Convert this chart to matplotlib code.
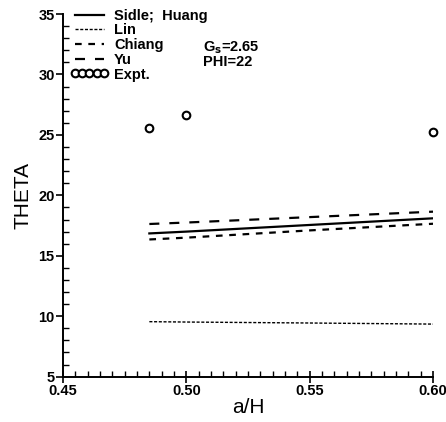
import matplotlib
matplotlib.use("Agg")
import matplotlib.pyplot as plt
from matplotlib.ticker import MultipleLocator, FormatStrFormatter

# a/H values and computed THETA for each method
ah = [0.485, 0.50, 0.55, 0.60]
sidle_huang = [16.85, 17.00, 17.55, 18.10]
lin = [9.55, 9.52, 9.44, 9.35]
chiang = [16.35, 16.50, 17.10, 17.65]
yu = [17.63, 17.75, 18.20, 18.65]

# measured values
expt_ah = [0.485, 0.50, 0.60]
expt_theta = [25.6, 26.65, 25.2]

plt.rcParams["font.family"] = ["Liberation Sans", "DejaVu Sans"]

fig = plt.figure(figsize=(4.46, 4.22), dpi=100)
ax = fig.add_axes([0.1413, 0.1074, 0.8296, 0.8594])

ax.plot(ah, sidle_huang, color="black", lw=1.6, label="Sidle;  Huang")
ax.plot(ah, lin, color="black", lw=1.0, dashes=(2.2, 1.2), label="Lin")
ax.plot(ah, chiang, color="black", lw=1.6, dashes=(3.0, 3.0), label="Chiang")
ax.plot(ah, yu, color="black", lw=1.6, dashes=(4.5, 4.5), label="Yu")
ax.plot(expt_ah, expt_theta, linestyle="none", marker="o", ms=5.5,
        mfc="white", mec="black", mew=1.5, label="Expt.", clip_on=False)

ax.set_xlim(0.45, 0.60)
ax.set_ylim(5, 35)

ax.spines["top"].set_visible(False)
ax.spines["right"].set_visible(False)
for s in ("left", "bottom"):
    ax.spines[s].set_linewidth(1.4)

ax.xaxis.set_major_locator(MultipleLocator(0.05))
ax.xaxis.set_minor_locator(MultipleLocator(0.005))
ax.xaxis.set_major_formatter(FormatStrFormatter("%.2f"))
ax.yaxis.set_major_locator(MultipleLocator(5))
ax.yaxis.set_minor_locator(MultipleLocator(1))

ax.tick_params(axis="x", which="major", direction="inout", length=8, width=1.2,
               pad=1, labelsize=10.5)
ax.tick_params(axis="x", which="minor", direction="in", length=4, width=1.0)
ax.tick_params(axis="y", which="major", direction="out", length=5, width=1.2,
               pad=1, labelsize=10.5)
ax.tick_params(axis="y", which="minor", direction="in", length=4, width=1.0)
for lab in ax.get_xticklabels() + ax.get_yticklabels():
    lab.set_fontweight("bold")

ax.set_xlabel("a/H", fontsize=15, labelpad=0)
ax.set_ylabel("THETA", fontsize=15, labelpad=4)

leg = ax.legend(loc="upper left", bbox_to_anchor=(0.0, 1.035), frameon=False,
                numpoints=5, handlelength=2.6, handletextpad=0.4,
                labelspacing=0.05, borderaxespad=0.1,
                prop={"size": 10.5, "weight": "bold"})

ax.text(0.378, 0.908, "G$_\\mathbf{s}$=2.65", transform=ax.transAxes,
        fontsize=10.5, fontweight="bold", va="center", ha="left")
ax.text(0.378, 0.868, "PHI=22", transform=ax.transAxes,
        fontsize=10.5, fontweight="bold", va="center", ha="left")

fig.savefig("out.png", dpi=100)
